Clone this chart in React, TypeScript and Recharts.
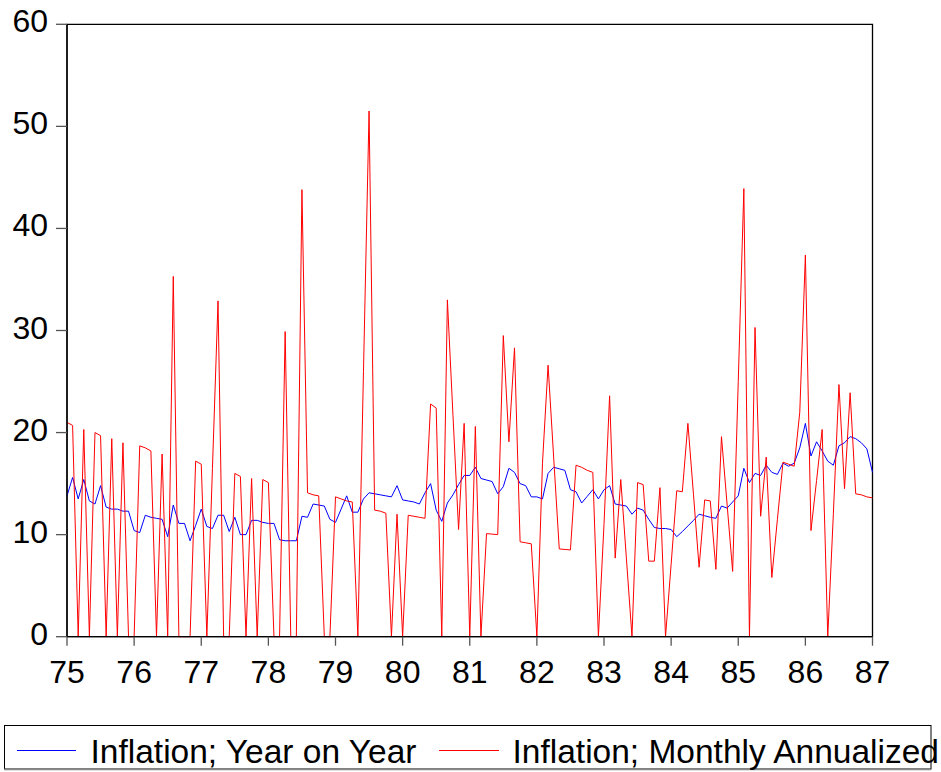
import React from 'react'
import { LineChart, Line, XAxis, YAxis, ReferenceArea } from 'recharts'

// monthly observations, 1975M01 .. 1987M01
const yearLabels = ['75', '76', '77', '78', '79', '80', '81', '82', '83', '84', '85', '86', '87']
const yTicks = [0, 10, 20, 30, 40, 50, 60]

const yearOnYear = [
  13.8, 15.6, 13.5, 15.4, 13.3, 13.0, 14.8, 12.7, 12.5, 12.5, 12.3, 12.3,
  10.4, 10.2, 11.9, 11.7, 11.6, 11.5, 9.8, 12.9, 11.1, 11.1, 9.4, 10.9,
  12.5, 10.8, 10.6, 11.9, 11.9, 10.3, 11.7, 10.0, 10.0, 11.4, 11.4, 11.2,
  11.1, 11.1, 9.5, 9.4, 9.4, 9.4, 11.8, 11.7, 13.0, 12.9, 12.8, 11.5,
  11.2, 12.5, 13.8, 12.2, 12.2, 13.5, 14.1, 14.0, 13.9, 13.8, 13.7, 14.8,
  13.4, 13.3, 13.2, 13.0, 14.1, 15.0, 12.4, 11.3, 13.1, 13.9, 14.9, 15.8,
  15.8, 16.6, 15.5, 15.35, 15.2, 14.0, 14.7, 16.5, 16.1, 15.0, 14.8, 13.7,
  13.7, 13.5, 16.0, 16.6, 16.45, 16.3, 14.4, 14.2, 13.1, 13.75, 14.4, 13.5,
  14.4, 14.8, 13.0, 12.9, 12.8, 12.0, 12.6, 12.4, 11.5, 10.7, 10.6, 10.6,
  10.5, 9.8, 10.3, 10.85, 11.4, 12.0, 11.85, 11.7, 11.6, 12.8, 12.6, 13.2,
  13.8, 16.5, 15.1, 16.0, 15.8, 16.8, 16.1, 15.9, 17.0, 16.7, 17.0, 18.5,
  20.9, 17.7, 19.1, 18.2, 17.2, 16.8, 18.7, 19.0, 19.6, 19.4, 19.0, 18.4,
  16.1,
]

const monthlyAnnualized = [
  21.0, 20.7, 0, 20.3, 0, 20.0, 19.7, 0, 19.4, 0, 19.0, 0,
  0, 18.7, 18.5, 18.2, 0, 17.9, 0, 35.3, 0, 0, 0, 17.2,
  16.9, 0, 16.5, 32.9, 0, 0, 16.0, 15.7, 0, 15.5, 0, 15.4,
  15.1, 0, 0, 29.9, 0, 0, 43.8, 14.1, 13.9, 13.8, 0, 0,
  13.7, 13.5, 13.3, 13.2, 0, 26.0, 51.5, 12.4, 12.3, 12.1, 0, 12.0,
  0, 11.9, 11.8, 11.7, 11.6, 22.8, 22.4, 0, 33.0, 21.7, 10.5, 20.9,
  0, 20.6, 0, 10.1, 10.05, 10.0, 29.5, 19.1, 28.3, 9.3, 9.2, 9.1,
  0, 17.0, 26.6, 17.6, 8.6, 8.55, 8.5, 16.8, 16.6, 16.3, 16.1, 0,
  11.0, 23.6, 7.7, 15.4, 7.7, 0, 15.1, 14.9, 7.4, 7.4, 14.6, 0,
  7.1, 14.3, 14.2, 20.9, 13.9, 6.8, 13.4, 13.3, 6.6, 19.6, 13.0, 6.4,
  25.0, 43.9, 0, 30.3, 11.8, 17.6, 5.8, 11.5, 17.1, 16.9, 16.7, 22.0,
  37.4, 10.4, 15.3, 20.3, 0, 12.0, 24.7, 14.5, 23.9, 14.0, 13.9, 13.7,
  13.6,
]

const rows = yearOnYear.map((v, i) => ({ m: i, yoy: v, mom: monthlyAnnualized[i] }))
const xTicks = yearLabels.map((_, i) => i * 12)

const font = '"Liberation Sans", Arial, Helvetica, sans-serif'

function XTick({ x, y, payload }: any) {
  return (
    <text x={x} y={y + 37.5} textAnchor="middle" fontSize={32} fontFamily={font} fill="#000">
      {yearLabels[payload.value / 12]}
    </text>
  )
}

function YTick({ x, y, payload }: any) {
  return (
    <text x={x} y={y + 8} textAnchor="end" fontSize={32} fontFamily={font} fill="#000">
      {payload.value}
    </text>
  )
}

function LegendBox() {
  return (
    <svg width={941} height={52} style={{ position: 'absolute', left: 0, top: 720 }}>
      <rect x={4.5} y={5.5} width={926.5} height={43.5} fill="#fff" stroke="#000" strokeWidth={1} />
      <line x1={4} y1={49.5} x2={931} y2={49.5} stroke="#888" strokeWidth={1.5} />
      <line x1={17} y1={30.5} x2={76} y2={30.5} stroke="#0000ff" strokeWidth={1} />
      <text x={90.5} y={43.3} fontSize={33.5} fontFamily={font} fill="#000">
        Inflation; Year on Year
      </text>
      <line x1={439} y1={30.5} x2={499} y2={30.5} stroke="#ff0000" strokeWidth={1} />
      <text x={512.5} y={43.3} fontSize={33.5} fontFamily={font} fill="#000">
        Inflation; Monthly Annualized
      </text>
    </svg>
  )
}

export default function App() {
  return (
    <div
      style={{
        position: 'absolute',
        left: 0,
        top: 0,
        width: 941,
        height: 772,
        overflow: 'hidden',
        background: '#fff',
      }}
    >
      <LineChart
        width={941}
        height={700}
        data={rows}
        margin={{ top: 24.3, right: 68.5, bottom: 13.3, left: 7 }}
      >
        <XAxis
          dataKey="m"
          type="number"
          domain={[0, 144]}
          ticks={xTicks}
          interval={0}
          height={50}
          tick={<XTick />}
          tickSize={9}
          tickMargin={0}
          axisLine={{ stroke: '#000', strokeWidth: 1.3 }}
          tickLine={{ stroke: '#555', strokeWidth: 1.3 }}
        />
        <YAxis
          type="number"
          domain={[0, 60]}
          ticks={yTicks}
          interval={0}
          width={60}
          tick={<YTick />}
          tickSize={11}
          tickMargin={8}
          axisLine={{ stroke: '#000', strokeWidth: 1.3 }}
          tickLine={{ stroke: '#555', strokeWidth: 1.3 }}
        />
        <ReferenceArea x1={0} x2={144} y1={0} y2={60} fill="none" stroke="#000" strokeWidth={1.3} />
        <Line
          type="linear"
          dataKey="yoy"
          stroke="#0000ff"
          strokeWidth={1}
          dot={false}
          isAnimationActive={false}
        />
        <Line
          type="linear"
          dataKey="mom"
          stroke="#ff0000"
          strokeWidth={1}
          dot={false}
          isAnimationActive={false}
        />
      </LineChart>
      <LegendBox />
    </div>
  )
}
